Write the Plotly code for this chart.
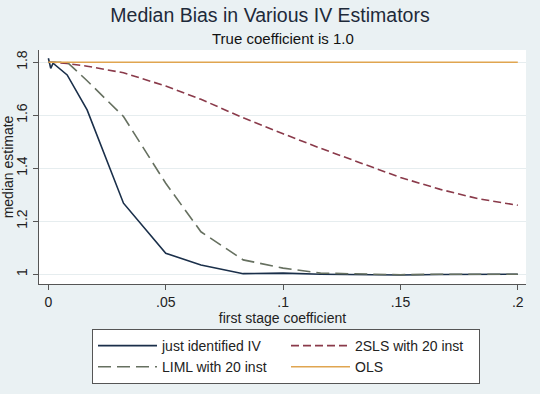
import plotly.graph_objects as go

x_grid = [0, 0.001, 0.002, 0.008, 0.0165, 0.032, 0.05, 0.065, 0.083, 0.1, 0.116, 0.133, 0.15, 0.167, 0.183, 0.2]
just_iv = [1.815, 1.777, 1.796, 1.752, 1.62, 1.268, 1.079, 1.035, 1.002, 1.004, 1.0, 0.998, 0.997, 0.999, 1.0, 1.0]
sls_20 = [1.80, 1.80, 1.80, 1.795, 1.785, 1.76, 1.71, 1.66, 1.59, 1.53, 1.475, 1.42, 1.365, 1.32, 1.285, 1.26]
liml_20 = [1.80, 1.80, 1.80, 1.80, 1.73, 1.595, 1.343, 1.16, 1.054, 1.023, 1.004, 1.0, 0.998, 1.0, 1.0, 1.0]
ols = [1.80] * len(x_grid)

names = ["just identified IV", "2SLS with 20 inst", "LIML with 20 inst", "OLS"]
colors = ["#1a2f4a", "#8a3a4a", "#667060", "#e0a550"]
dashes = ["solid", "8px,4px", "13px,6px", "solid"]
series = [just_iv, sls_20, liml_20, ols]

fig = go.Figure()
for n, c, d, s in zip(names, colors, dashes, series):
    fig.add_trace(go.Scatter(x=x_grid, y=s, mode="lines", name=n,
                             line=dict(color=c, width=1.6, dash=d)))

font = "Liberation Sans, Arial, sans-serif"
PLOT_H = 394 - 50 - 110
fig.update_layout(
    width=540, height=394,
    paper_bgcolor="#eaf1f3", plot_bgcolor="#ffffff",
    margin=dict(l=39, r=14, t=50, b=110, autoexpand=False),
    font=dict(family=font, size=14, color="#222222"),
    title=dict(text="Median Bias in Various IV Estimators", x=0.5, xanchor="center",
               y=1 - 15 / 394, yanchor="middle", font=dict(size=19.5, color="#1e2a3a")),
    xaxis=dict(range=[-0.004, 0.2035], tickvals=[0, 0.05, 0.1, 0.15, 0.2],
               ticktext=["0", ".05", ".1", ".15", ".2"], showgrid=False, zeroline=False,
               showline=True, linecolor="#555555", linewidth=1, ticks="outside", ticklen=5,
               tickcolor="#555555", automargin=False,
               title=dict(text="first stage coefficient", standoff=0, font=dict(size=14)),
               tickfont=dict(size=14)),
    yaxis=dict(range=[0.963, 1.846], tickvals=[1, 1.2, 1.4, 1.6, 1.8],
               ticktext=["1", "1.2", "1.4", "1.6", "1.8"], tickangle=-90,
               showgrid=True, gridcolor="#e6edef", gridwidth=1, zeroline=False,
               showline=True, linecolor="#555555", linewidth=1, ticks="outside", ticklen=5,
               tickcolor="#555555", automargin=False,
               title=dict(text="median estimate", standoff=0, font=dict(size=14)),
               tickfont=dict(size=14)),
    legend=dict(orientation="h", x=(286 - 39) / 487, xanchor="center",
                y=-(329 - 284) / PLOT_H, yanchor="top",
                bgcolor="#ffffff", bordercolor="#555555", borderwidth=1,
                itemwidth=59, entrywidth=119, entrywidthmode="pixels", traceorder="normal",
                tracegroupgap=0, font=dict(size=14)),
    annotations=[dict(text="True coefficient is 1.0", x=0.5, xref="paper",
                      y=1 + (50 - 39) / PLOT_H, yref="paper", yanchor="middle",
                      showarrow=False, font=dict(size=15, color="#111111"))],
)

fig.write_html("out.html", config={"displayModeBar": False},
               post_script="document.body.style.margin='0';")
